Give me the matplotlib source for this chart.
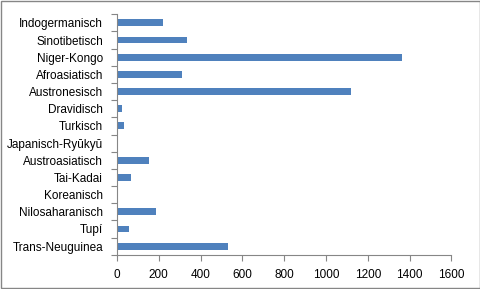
import matplotlib
matplotlib.use("Agg")
import matplotlib.pyplot as plt
from matplotlib.patches import Rectangle

categories = ["Indogermanisch", "Sinotibetisch", "Niger-Kongo", "Afroasiatisch",
              "Austronesisch", "Dravidisch", "Turkisch", "Japanisch-Ryūkyū",
              "Austroasiatisch", "Tai-Kadai", "Koreanisch", "Nilosaharanisch",
              "Tupí", "Trans-Neuguinea"]
values = [220, 336, 1364, 312, 1120, 25, 35, 0, 155, 68, 0, 188, 59, 532]
xticks = [0, 200, 400, 600, 800, 1000, 1200, 1400, 1600]

plt.rcParams['font.family'] = ['Liberation Sans', 'DejaVu Sans']

fig = plt.figure(figsize=(4.81, 2.89), dpi=100)
ax = fig.add_axes([0.2432, 0.1187, 0.9383 - 0.2432, 0.9505 - 0.1187])

n = len(categories)
pos = list(range(n))
ax.barh(pos, values, height=0.4, color="#4F81BD")
ax.set_ylim(n - 0.5, -0.5)
ax.set_xlim(0, 1600)
ax.set_xticks(xticks)
ax.set_xticklabels([str(t) for t in xticks], fontsize=8.5)
ax.set_yticks(pos)
ax.set_yticklabels(categories, fontsize=8.5)
ax.set_yticks([i - 0.5 for i in range(n + 1)], minor=True)
ax.tick_params(axis='y', which='major', length=0, pad=10)
ax.tick_params(axis='y', which='minor', length=4, color="#868686", width=0.8)
ax.tick_params(axis='x', which='major', length=4, color="#868686", width=0.8, pad=6)
for s in ['top', 'right']:
    ax.spines[s].set_visible(False)
for s in ['left', 'bottom']:
    ax.spines[s].set_color("#868686")
    ax.spines[s].set_linewidth(0.8)

fig.patches.append(Rectangle((0.002, 0.003), 0.995, 0.994, transform=fig.transFigure,
                             fill=False, edgecolor="#868686", linewidth=1.0))

fig.savefig("out.png", dpi=100)
